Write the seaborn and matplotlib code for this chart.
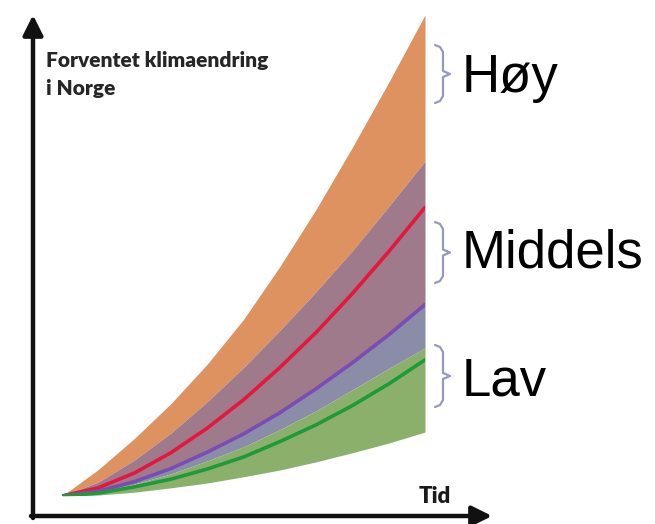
import matplotlib
matplotlib.use("Agg")
import matplotlib.pyplot as plt
import seaborn as sns

# Tid (vilkaarlig skala) og forventet endring (vilkaarlig skala), lest av figuren
tid = [0, 1, 2, 3, 4, 5, 6, 7, 8, 9, 10]
hoy_ovre = [0, 0.55, 1.20, 1.92, 2.74, 3.67, 4.77, 5.96, 7.25, 8.60, 10.0]
middels_ovre = [0, 0.29, 0.75, 1.31, 1.96, 2.67, 3.44, 4.25, 5.10, 6.02, 6.96]
rod_linje = [0, 0.17, 0.48, 0.90, 1.41, 2.00, 2.67, 3.40, 4.21, 5.08, 6.00]
lilla_linje = [0, 0.10, 0.30, 0.57, 0.91, 1.29, 1.73, 2.23, 2.77, 3.35, 3.98]
lav_ovre = [0, 0.08, 0.25, 0.46, 0.73, 1.02, 1.38, 1.77, 2.21, 2.65, 3.08]
gronn_linje = [0, 0.06, 0.19, 0.35, 0.56, 0.81, 1.13, 1.48, 1.88, 2.33, 2.83]
lav_nedre = [0, 0.02, 0.08, 0.17, 0.27, 0.40, 0.54, 0.71, 0.90, 1.10, 1.33]

scenarier = ["Høy", "Middels", "Lav"]

sns.set_theme(style="white")

W, H = 655, 524
fig = plt.figure(figsize=(W / 100, H / 100), dpi=100)
fig.patch.set_facecolor("white")
ax = fig.add_axes([62 / W, (H - 496) / H, 363 / W, 481 / H])
ax.set_xlim(0, 10)
ax.set_ylim(0, 10)
ax.axis("off")

# baand
ax.fill_between(tid, middels_ovre, hoy_ovre, color="#DD9260", lw=0)
ax.fill_between(tid, lilla_linje, middels_ovre, color="#9E7A8A", lw=0)
ax.fill_between(tid, lav_ovre, lilla_linje, color="#8A8CA8", lw=0)
ax.fill_between(tid, lav_nedre, lav_ovre, color="#8BB06C", lw=0)

# linjer
for y, c in [(rod_linje, "#E5173F"), (lilla_linje, "#7A4DB5"), (gronn_linje, "#1F9A3A")]:
    sns.lineplot(x=tid, y=y, color=c, lw=2.6, ax=ax, solid_capstyle="round")

# akser som piler
pil = dict(arrowstyle="-|>", lw=3.2, color="#111111", mutation_scale=30,
           shrinkA=0, shrinkB=0)
ax.annotate("", xy=(33, H - 15), xytext=(33, H - 518),
            xycoords="figure pixels", textcoords="figure pixels", arrowprops=pil)
ax.annotate("", xy=(492, H - 516), xytext=(31, H - 516),
            xycoords="figure pixels", textcoords="figure pixels", arrowprops=pil)

fig.text(46 / W, 1 - 67 / H, "Forventet klimaendring", family="Lato",
         weight="heavy", size=15, color="#262626", va="baseline")
fig.text(46 / W, 1 - 95 / H, "i Norge", family="Lato",
         weight="heavy", size=15, color="#262626", va="baseline")
fig.text(419 / W, 1 - 503 / H, "Tid", family="Lato",
         weight="heavy", size=16, color="#1a1a1a", va="baseline")


def klamme(top, bunn):
    m = (top + bunn) / 2
    xs = [435, 440, 443, 443, 450, 443, 443, 440, 435]
    ys = [top, top + 2, top + 7, m - 3, m, m + 3, bunn - 7, bunn - 2, bunn]
    fig.add_artist(plt.Line2D([x / W for x in xs], [1 - y / H for y in ys],
                              color="#9499C0", lw=1.6, transform=fig.transFigure))


for navn, (top, bunn), base in zip(scenarier, [(45, 103), (222, 283), (345, 407)],
                                   [92, 267, 395]):
    klamme(top, bunn)
    fig.text(462 / W, 1 - base / H, navn, family="Liberation Sans", size=38,
             color="black", va="baseline")

fig.savefig("out.png", dpi=100)
